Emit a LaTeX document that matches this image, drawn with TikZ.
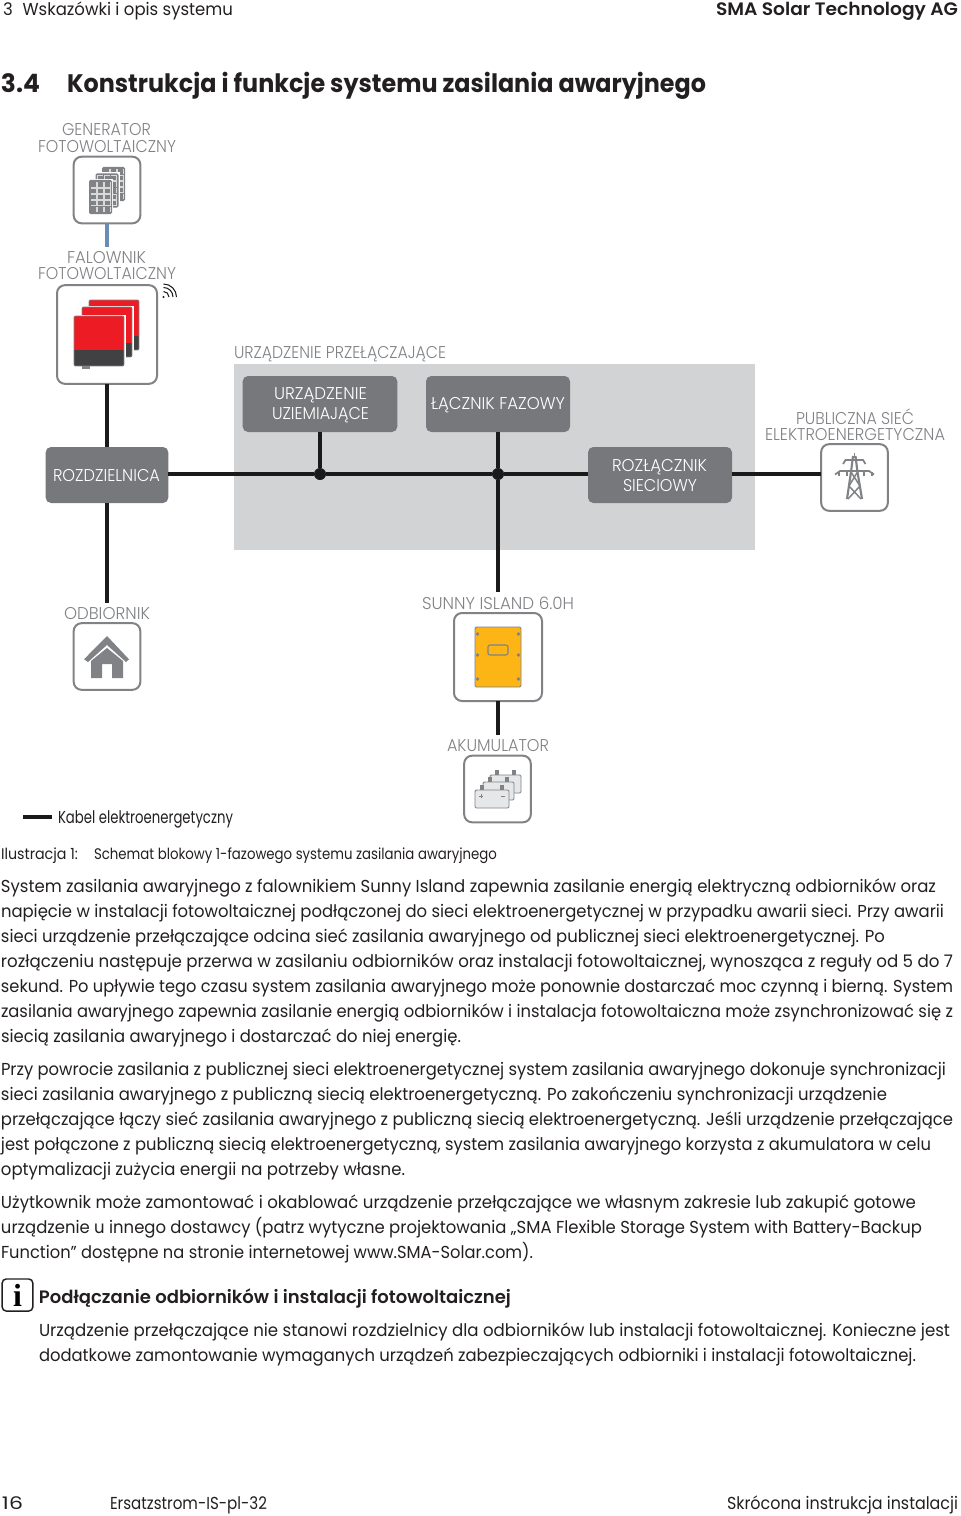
\documentclass[tikz,border=0pt]{standalone}
\usepackage{fontspec}
\usepackage{graphicx}
\setmainfont{Poppins}[BoldFont=* SemiBold]
\newfontfamily\lightf{Poppins Light}
\newfontfamily\heavyf{Poppins}[UprightFont=* Bold]
\newfontfamily\iserif{Liberation Serif}[BoldFont=* Bold]
\definecolor{lab}{HTML}{808285}
\definecolor{bx}{HTML}{77787B}
\definecolor{panel}{HTML}{D1D3D4}
\definecolor{ln}{HTML}{1A1A1A}
\definecolor{ink}{HTML}{231F20}
\definecolor{dcblue}{HTML}{6A8DB5}
\definecolor{invred}{HTML}{ED1C24}
\definecolor{invdark}{HTML}{414042}
\definecolor{sunny}{HTML}{FDB515}
\definecolor{batt}{HTML}{E6E7E8}
\newsavebox{\tmb}
% \tl{name}{x-left}{baseline}{x-right}{font}{colour}{text}
\newcommand{\tl}[7]{%
  \node[anchor=base west,inner sep=0pt,outer sep=0pt,text=#6] (#1) at (#2,#3) {%
    \sbox{\tmb}{#5{}#7}%
    \pgfmathsetmacro{\fac}{(#4-#2)*0.75/\the\wd\tmb}%
    \scalebox{\fac}[1]{\usebox{\tmb}}};%
}
\newcommand{\fbody}{\fontsize{13pt}{15pt}\selectfont}
\newcommand{\fcap}{\fontsize{11.5pt}{14pt}\selectfont}
\newcommand{\fbold}{\fontsize{13.5pt}{15pt}\selectfont\bfseries}
\newcommand{\flab}{\fontsize{12.8pt}{15pt}\selectfont\lightf}
\newcommand{\fhead}{\fontsize{19pt}{22pt}\selectfont\heavyf}
\tikzset{
  x=0.75pt,y=-0.75pt,
  framebox/.style={draw=lab,line width=1.5pt,rounded corners=6pt,fill=white,inner sep=0pt,outer sep=0pt},
  darkbox/.style={fill=bx,rounded corners=4pt,inner sep=0pt,outer sep=0pt},
  cable/.style={draw=ln,line width=3pt},
  dcable/.style={draw=dcblue,line width=3pt},
  junction/.style={circle,fill=ln,minimum size=9pt,inner sep=0pt,outer sep=0pt},
  iconline/.style={draw=lab,line width=1.3pt},
}
\begin{document}
\begin{tikzpicture}
\useasboundingbox (0,0) rectangle (960,1516);
% grey panel
\fill[panel] (234,364) rectangle (755,550);
% frames
\node[framebox,minimum width=50pt,minimum height=50pt] (gen) at (107,190) {};
\node[framebox,minimum width=75pt,minimum height=74pt] (fal) at (107,334.5) {};
\node[darkbox,minimum width=92pt,minimum height=42pt] (roz) at (107,475) {};
\node[darkbox,minimum width=116pt,minimum height=42pt] (uzi) at (320,404) {};
\node[darkbox,minimum width=108pt,minimum height=42pt] (faz) at (498,404) {};
\node[darkbox,minimum width=108pt,minimum height=42pt] (sie) at (660,475) {};
\node[framebox,minimum width=50pt,minimum height=50pt] (pub) at (854.5,477.5) {};
\node[framebox,minimum width=50pt,minimum height=50pt] (odb) at (107,656.5) {};
\node[framebox,minimum width=66pt,minimum height=66pt] (isl) at (498,657) {};
\node[framebox,minimum width=50pt,minimum height=50pt] (aku) at (497.5,789) {};
\coordinate (genend) at (107,247);
\coordinate (rozend) at (107,603);
\coordinate (fazend) at (498,592);
\coordinate (akuend) at (498,735);
\coordinate (leg1) at (23,817);
\coordinate (leg2) at (52,817);
\node[junction] (j1) at (320,474) {};
\node[junction] (j2) at (498,474) {};
% connectors
\draw[dcable] (gen.south) -- (genend);
\draw[cable] (fal.south) -- (roz.north);
\draw[cable] (roz.south) -- (rozend);
\draw[cable] (roz.east |- j1) -- (j1) -- (j2) -- (sie.west |- j1);
\draw[cable] (sie.east |- j1) -- (pub.west |- j1);
\draw[cable] (uzi.south) -- (j1);
\draw[cable] (faz.south) -- (j2) -- (fazend);
\draw[cable] (isl.south) -- (akuend);
\draw[cable] (leg1) -- (leg2);
% solar panels
\foreach \px/\py in {102/167,95.5/173.5,89/180}{
  \fill[white] (\px-1.2,\py-1.2) rectangle (\px+24.2,\py+35.2);
  \fill[lab,rounded corners=1pt] (\px,\py) rectangle (\px+23,\py+34);
  \foreach \i in {0,1,2}{\foreach \j in {0,1,2,3,4}{
    \fill[white!70!lab] (\px+1.5+\i*6.8,\py+1.7+\j*6.2) rectangle ++(6.4,5.8);
    \fill[lab] (\px+2.2+\i*6.8,\py+2.4+\j*6.2) rectangle ++(5,4.4);
  }}
}
% inverters
\foreach \px/\py/\dy in {89/300/36,82/307/36,74/316/34}{
  \fill[white] (\px-1.5,\py-1.5) rectangle (\px+51.5,\py+51.5);
  \fill[invred] (\px,\py) rectangle (\px+50,\py+\dy);
  \fill[invdark] (\px,\py+\dy) rectangle (\px+50,\py+50);
  \draw[lab,line width=0.6pt,rounded corners=1pt] (\px,\py) rectangle (\px+50,\py+50);
}
\fill[lab] (82,366) rectangle (90,369);
% wifi
\fill[ln] (163.5,297) circle[radius=1.2];
\draw[ln,line width=0.8pt] (163.5,291.5) .. controls (166.5,291.5) and (169,294) .. (169,297);
\draw[ln,line width=0.8pt] (163.5,287.5) .. controls (168.8,287.5) and (173,291.7) .. (173,297);
\draw[ln,line width=0.8pt] (163.5,284) .. controls (170.7,284) and (176.5,289.8) .. (176.5,297);
% pylon
\draw[iconline,line width=1.6pt] (853,456) -- (851,472) -- (847,499) (855.5,456) -- (857.5,472) -- (862,499);
\draw[iconline,line width=1.1pt] (851,472) -- (860,486) -- (848,499) (857.5,472) -- (849,486) -- (861,499);
\draw[iconline,line width=1pt] (854.2,453) -- (854.2,458);
\draw[iconline] (843,464) -- (845.5,460) -- (863,460) -- (865.5,464);
\draw[iconline] (835,474.5) -- (840,471) -- (869,471) -- (874,474.5);
\foreach \sx in {838,846,863,871}{\fill[lab] (\sx,472) rectangle ++(1.6,4);}
% house
\fill[lab] (107,636) -- (129,659.3) -- (126,662) -- (107,645) -- (88,662) -- (84,659.3) -- cycle;
\fill[lab] (107,648) -- (123,661) -- (123,678) -- (112,678) -- (112,664) -- (102,664) -- (102,678) -- (91,678) -- (91,661) -- cycle;
% sunny island
\draw[lab,fill=sunny,line width=0.7pt,rounded corners=1pt] (475,627) rectangle (521,687);
\draw[lab,line width=0.8pt,rounded corners=1.5pt] (488,645) rectangle (508,655);
\foreach \sx in {477.5,518.5}{\foreach \sy in {634,655,679}{\fill[lab] (\sx,\sy) circle[radius=1.8];}}
% batteries
\foreach \px/\py/\w in {490/775/31,483/782/31,475/790/34}{
  \fill[lab] (\px+5,\py-5) rectangle ++(4,5);
  \fill[lab] (\px+\w-9,\py-5) rectangle ++(4,5);
  \draw[lab,fill=batt,line width=0.7pt,rounded corners=1pt] (\px,\py) rectangle (\px+\w,\py+18);
}
\draw[lab,line width=0.4pt] (479,796) -- (483,796) (481,794) -- (481,798) (501,796) -- (505,796);
% info icon
\node[draw=ink,line width=1.1pt,rounded corners=3pt,minimum width=23pt,minimum height=24pt,inner sep=0pt] (info) at (17.5,1295) {\iserif\bfseries\fontsize{24pt}{24pt}\selectfont i};
% header
\tl{h1}{3}{15.5}{233}{\fbody}{ink}{3\hspace{0.6em}Wskazówki i opis systemu}
\tl{h2}{716}{16}{958}{\fbold}{ink}{SMA Solar Technology AG}
\tl{t1}{1}{93}{40}{\fhead}{ink}{3.4}
\tl{t2}{67}{93}{706}{\fhead}{ink}{Konstrukcja i funkcje systemu zasilania awaryjnego}
% diagram labels
\tl{a1}{62}{136}{151}{\flab}{lab}{GENERATOR}
\tl{a2}{38}{152}{176}{\flab}{lab}{FOTOWOLTAICZNY}
\tl{a3}{67}{263}{146}{\flab}{lab}{FALOWNIK}
\tl{a4}{38}{279}{176}{\flab}{lab}{FOTOWOLTAICZNY}
\tl{a5}{234}{358}{446}{\flab}{lab}{URZĄDZENIE PRZEŁĄCZAJĄCE}
\tl{a6}{274}{399}{367}{\flab}{white}{URZĄDZENIE}
\tl{a7}{272}{419}{369}{\flab}{white}{UZIEMIAJĄCE}
\tl{a8}{431}{409}{565}{\flab}{white}{ŁĄCZNIK FAZOWY}
\tl{a9}{612}{471}{707}{\flab}{white}{ROZŁĄCZNIK}
\tl{a10}{623}{491}{697}{\flab}{white}{SIECIOWY}
\tl{a11}{53}{481}{160}{\flab}{white}{ROZDZIELNICA}
\tl{a12}{796}{424}{914}{\flab}{lab}{PUBLICZNA SIEĆ}
\tl{a13}{765}{440}{945}{\flab}{lab}{ELEKTROENERGETYCZNA}
\tl{a14}{64}{619}{150}{\flab}{lab}{ODBIORNIK}
\tl{a15}{422}{609}{574}{\flab}{lab}{SUNNY ISLAND 6.0H}
\tl{a16}{447}{751}{549}{\flab}{lab}{AKUMULATOR}
\tl{leg}{58}{823}{233}{\fbody}{ink}{Kabel elektroenergetyczny}
% caption
\tl{c1}{1}{859.5}{78}{\fcap}{ink}{Ilustracja 1:}
\tl{c2}{94}{859.5}{497}{\fcap}{ink}{Schemat blokowy 1-fazowego systemu zasilania awaryjnego}
% body
\tl{b1}{1}{892.5}{936}{\fbody}{ink}{System zasilania awaryjnego z falownikiem Sunny Island zapewnia zasilanie energią elektryczną odbiorników oraz}
\tl{b2}{1}{917.5}{944}{\fbody}{ink}{napięcie w instalacji fotowoltaicznej podłączonej do sieci elektroenergetycznej w przypadku awarii sieci. Przy awarii}
\tl{b3}{1}{942.5}{885}{\fbody}{ink}{sieci urządzenie przełączające odcina sieć zasilania awaryjnego od publicznej sieci elektroenergetycznej. Po}
\tl{b4}{1}{967.5}{953}{\fbody}{ink}{rozłączeniu następuje przerwa w zasilaniu odbiorników oraz instalacji fotowoltaicznej, wynosząca z reguły od 5 do 7}
\tl{b5}{1}{992.5}{953}{\fbody}{ink}{sekund. Po upływie tego czasu system zasilania awaryjnego może ponownie dostarczać moc czynną i bierną. System}
\tl{b6}{1}{1017.5}{953}{\fbody}{ink}{zasilania awaryjnego zapewnia zasilanie energią odbiorników i instalacja fotowoltaiczna może zsynchronizować się z}
\tl{b7}{1}{1042.5}{461}{\fbody}{ink}{siecią zasilania awaryjnego i dostarczać do niej energię.}
\tl{d1}{1}{1075.5}{946}{\fbody}{ink}{Przy powrocie zasilania z publicznej sieci elektroenergetycznej system zasilania awaryjnego dokonuje synchronizacji}
\tl{d2}{1}{1100.5}{887}{\fbody}{ink}{sieci zasilania awaryjnego z publiczną siecią elektroenergetyczną. Po zakończeniu synchronizacji urządzenie}
\tl{d3}{1}{1125.5}{953}{\fbody}{ink}{przełączające łączy sieć zasilania awaryjnego z publiczną siecią elektroenergetyczną. Jeśli urządzenie przełączające}
\tl{d4}{1}{1150.5}{931}{\fbody}{ink}{jest połączone z publiczną siecią elektroenergetyczną, system zasilania awaryjnego korzysta z akumulatora w celu}
\tl{d5}{1}{1175.5}{405}{\fbody}{ink}{optymalizacji zużycia energii na potrzeby własne.}
\tl{e1}{1}{1208.5}{916}{\fbody}{ink}{Użytkownik może zamontować i okablować urządzenie przełączające we własnym zakresie lub zakupić gotowe}
\tl{e2}{1}{1233.5}{922}{\fbody}{ink}{urządzenie u innego dostawcy (patrz wytyczne projektowania „SMA Flexible Storage System with Battery-Backup}
\tl{e3}{1}{1258.5}{533}{\fbody}{ink}{Function” dostępne na stronie internetowej www.SMA-Solar.com).}
\tl{f1}{39}{1303}{511}{\fbold}{ink}{Podłączanie odbiorników i instalacji fotowoltaicznej}
\tl{f2}{39}{1336}{950}{\fbody}{ink}{Urządzenie przełączające nie stanowi rozdzielnicy dla odbiorników lub instalacji fotowoltaicznej. Konieczne jest}
\tl{f3}{39}{1361}{916}{\fbody}{ink}{dodatkowe zamontowanie wymaganych urządzeń zabezpieczających odbiorniki i instalacji fotowoltaicznej.}
% footer
\tl{z1}{2}{1509.5}{23}{\fbody}{ink}{16}
\tl{z2}{110}{1509.5}{267}{\fbody}{ink}{Ersatzstrom-IS-pl-32}
\tl{z3}{727}{1509.5}{958}{\fbody}{ink}{Skrócona instrukcja instalacji}
\end{tikzpicture}
\end{document}
